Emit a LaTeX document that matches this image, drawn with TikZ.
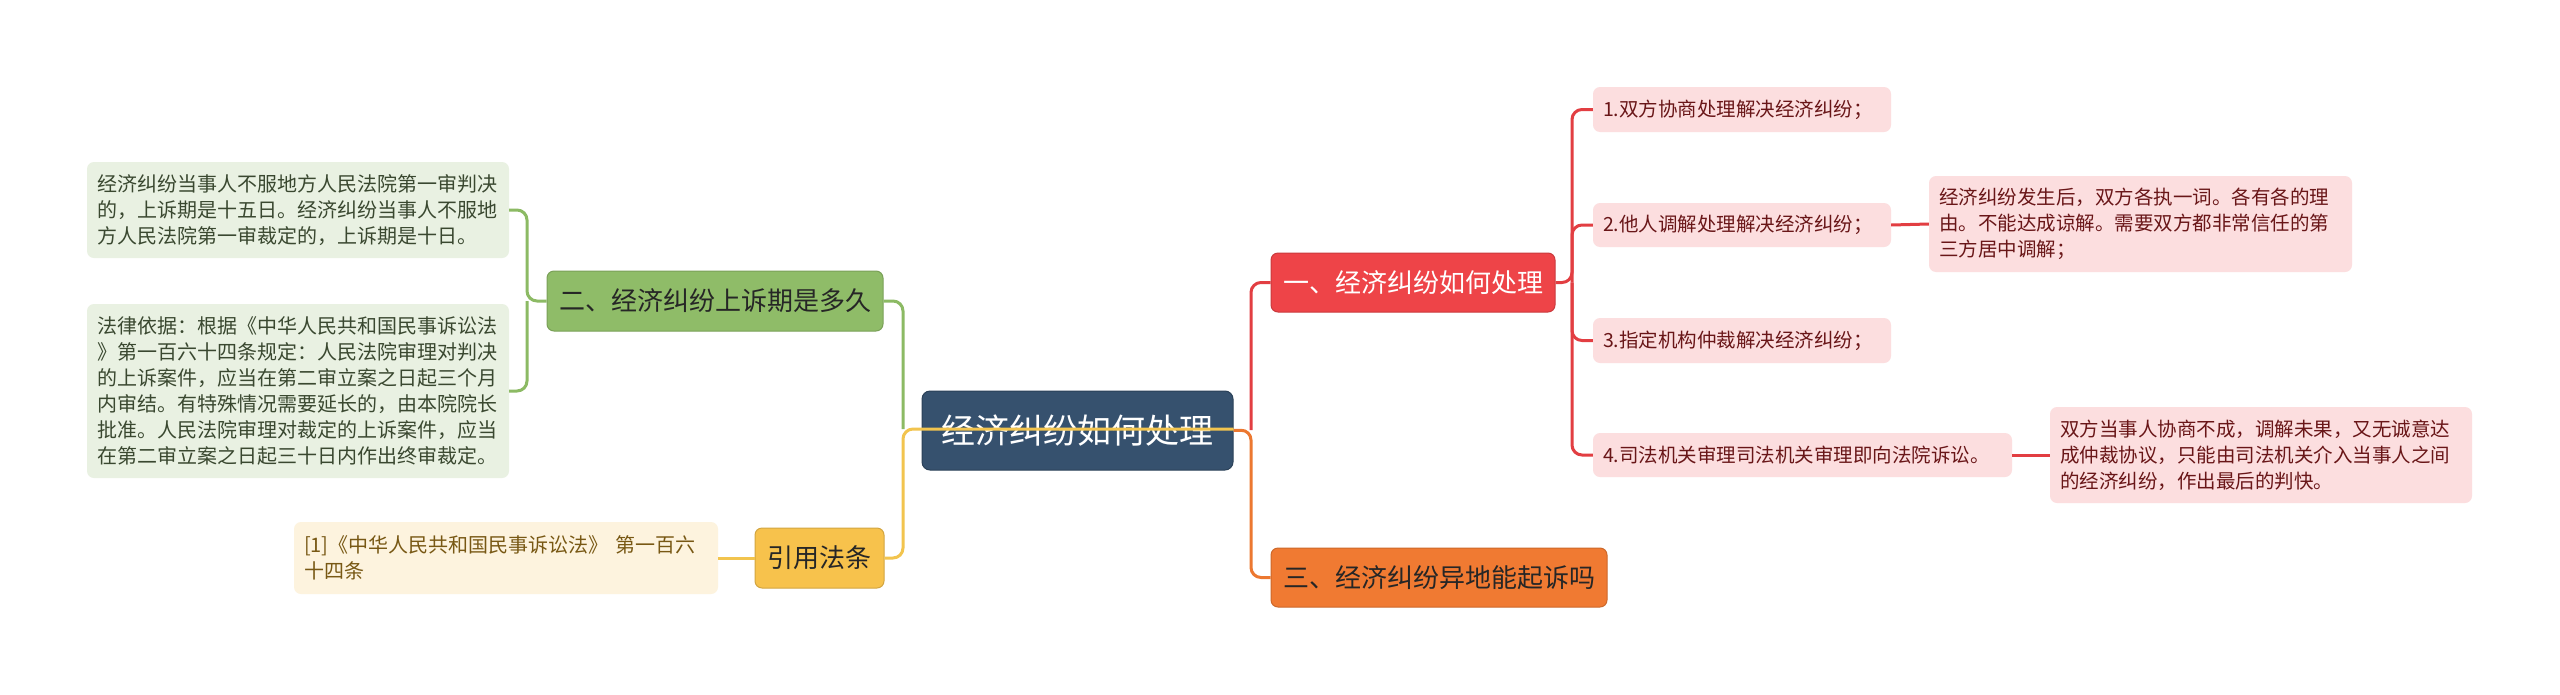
\documentclass[tikz,border=0pt]{standalone}
\usepackage{fontspec}
\usepackage{tikz}
\newfontfamily\cjk{Noto Sans CJK SC}
\definecolor{myslate}{RGB}{54, 81, 110}
\definecolor{myred}{RGB}{238, 68, 72}
\definecolor{myorange}{RGB}{240, 122, 50}
\definecolor{mygreen}{RGB}{143, 188, 104}
\definecolor{myyellow}{RGB}{247, 194, 76}
\definecolor{redleaf}{RGB}{252, 222, 223}
\definecolor{greenleaf}{RGB}{233, 241, 226}
\definecolor{yellowleaf}{RGB}{253, 243, 222}
\definecolor{redline}{RGB}{226, 62, 66}
\definecolor{orangeline}{RGB}{236, 120, 48}
\definecolor{greenline}{RGB}{140, 186, 100}
\definecolor{yellowline}{RGB}{242, 196, 78}
\tikzset{
  % central topic
  root/.style={rectangle,rounded corners=8pt,fill=myslate,draw=myslate!80!black,line width=1pt,text=white,inner sep=0pt,font=\cjk\fontsize{34}{40}\selectfont},
  % main topics
  rtopic/.style={rectangle,rounded corners=7pt,fill=myred,draw=myred!85!black,line width=1pt,text=white,inner sep=0pt,minimum height=59pt,font=\cjk\fontsize{26}{32}\selectfont},
  otopic/.style={rectangle,rounded corners=7pt,fill=myorange,draw=myorange!85!black,line width=1pt,text=black!85,inner sep=0pt,minimum height=59pt,font=\cjk\fontsize{26}{32}\selectfont},
  gtopic/.style={rectangle,rounded corners=7pt,fill=mygreen,draw=mygreen!85!black,line width=1pt,text=black!85,inner sep=0pt,minimum height=60pt,font=\cjk\fontsize{26}{32}\selectfont},
  ytopic/.style={rectangle,rounded corners=7pt,fill=myyellow,draw=myyellow!85!black,line width=1pt,text=black!85,inner sep=0pt,minimum height=60pt,font=\cjk\fontsize{26}{32}\selectfont},
  % leaves
  rleaf/.style={rectangle,rounded corners=7pt,fill=redleaf,text={rgb,255:red,105;green,22;blue,24},inner xsep=10pt,inner ysep=0pt,align=left,font=\cjk\fontsize{19.5}{26}\selectfont},
  gleaf/.style={rectangle,rounded corners=7pt,fill=greenleaf,text={rgb,255:red,58;green,72;blue,48},inner xsep=10pt,inner ysep=0pt,align=left,font=\cjk\fontsize{20}{26}\selectfont},
  yleaf/.style={rectangle,rounded corners=7pt,fill=yellowleaf,text={rgb,255:red,120;green,88;blue,20},inner xsep=10pt,inner ysep=0pt,align=left,font=\cjk\fontsize{20}{26}\selectfont},
  % connectors
  link/.style={line width=3pt,rounded corners=10pt}
}
\begin{document}
\begin{tikzpicture}[x=1pt,y=-1pt]
  \fill[white] (0,0) rectangle (2560,694);
  \useasboundingbox (0,0) rectangle (2560,694);
  %%%%%%%%%%%%%%%%%%%%%%%%%%%%%%%%%%%%%%%
  \node[root,minimum width=311pt,minimum height=79pt] (root) at (1077.5,430.5) {经济纠纷如何处理};
  \node[rtopic,minimum width=284pt] (handle) at (1413,282.5) {一、经济纠纷如何处理};
  \node[otopic,minimum width=336pt] (remote) at (1439,577.5) {三、经济纠纷异地能起诉吗};
  \node[gtopic,minimum width=336pt] (appeal) at (715,301) {二、经济纠纷上诉期是多久};
  \node[ytopic,minimum width=129pt] (cite) at (819.5,558) {引用法条};
  %%%%%%%%%%%%%%%%%%%%%%%%%%%%%%%%%%%%%%%
  \node[rleaf,text width=278pt,minimum height=45pt] (way1) at (1742,109.5) {1.双方协商处理解决经济纠纷；};
  \node[rleaf,text width=278pt,minimum height=44pt] (way2) at (1742,225) {2.他人调解处理解决经济纠纷；};
  \node[rleaf,text width=278pt,minimum height=45pt] (way3) at (1742,340.5) {3.指定机构仲裁解决经济纠纷；};
  \node[rleaf,text width=399pt,minimum height=44pt] (way4) at (1802.5,455) {4.司法机关审理司法机关审理即向法院诉讼。};
  \node[rleaf,text width=403pt,minimum height=96pt] (way2note) at (2140.5,224) {经济纠纷发生后，双方各执一词。各有各的理\\由。不能达成谅解。需要双方都非常信任的第\\三方居中调解；};
  \node[rleaf,text width=402pt,minimum height=96pt] (way4note) at (2261,455) {双方当事人协商不成，调解未果，又无诚意达\\成仲裁协议，只能由司法机关介入当事人之间\\的经济纠纷，作出最后的判快。};
  %%%%%%%%%%%%%%%%%%%%%%%%%%%%%%%%%%%%%%%
  \node[gleaf,text width=402pt,minimum height=96pt] (term) at (298,210) {经济纠纷当事人不服地方人民法院第一审判决\\的，上诉期是十五日。经济纠纷当事人不服地\\方人民法院第一审裁定的，上诉期是十日。};
  \node[gleaf,text width=402pt,minimum height=174pt] (basis) at (298,391) {法律依据：根据《中华人民共和国民事诉讼法\\》第一百六十四条规定：人民法院审理对判决\\的上诉案件，应当在第二审立案之日起三个月\\内审结。有特殊情况需要延长的，由本院院长\\批准。人民法院审理对裁定的上诉案件，应当\\在第二审立案之日起三十日内作出终审裁定。};
  \node[yleaf,text width=404pt,minimum height=72pt] (law) at (506,558) {[1]《中华人民共和国民事诉讼法》 第一百六\\十四条};
  %%%%%%%%%%%%%%%%%%%%%%%%%%%%%%%%%%%%%%%
  \coordinate (ltrunk) at (903,429);
  \coordinate (rtrunk) at (1251,430);
  \coordinate (gtrunk) at (527,301);
  \coordinate (wtrunk) at (1572,282.5);
  \draw[link,redline] (rtrunk) |- (handle.west);
  \draw[link,orangeline] (root.east) -- (rtrunk) |- (remote.west);
  \draw[link,greenline] (ltrunk) |- (appeal.east);
  \draw[link,yellowline] (root.east |- ltrunk) -- (ltrunk) |- (cite.east);
  %%%%%%%%%%%%%%%%%%%%%%%%%%%%%%%%%%%%%%%
  \draw[link,redline] (handle.east) -- (wtrunk) |- (way1.west);
  \draw[link,redline] (wtrunk) |- (way2.west);
  \draw[link,redline] (wtrunk) |- (way3.west);
  \draw[link,redline] (wtrunk) |- (way4.west);
  \draw[link,redline] (way2.east) -- (way2note.west);
  \draw[link,redline] (way4.east) -- (way4note.west);
  %%%%%%%%%%%%%%%%%%%%%%%%%%%%%%%%%%%%%%%
  \draw[link,greenline] (appeal.west) -- (gtrunk) |- (term.east);
  \draw[link,greenline] (gtrunk) |- (basis.east);
  \draw[link,yellowline] (cite.west) -- (law.east);
\end{tikzpicture}
\end{document}
